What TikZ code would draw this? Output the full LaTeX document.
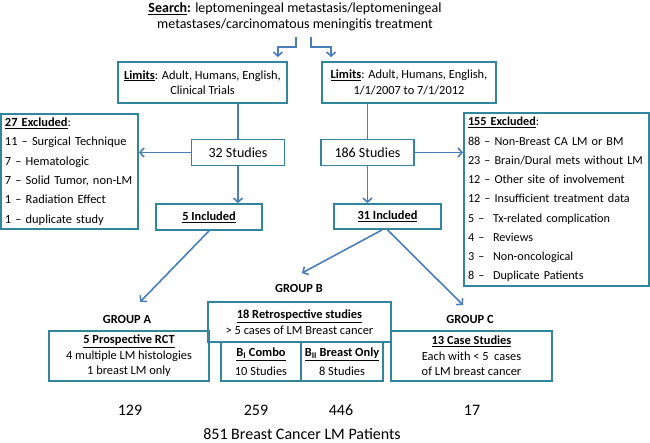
\documentclass[tikz,border=0pt]{standalone}
\usepackage{fontspec}
\setmainfont{Carlito}
\usetikzlibrary{arrows.meta,calc}
\definecolor{boxc}{HTML}{31859C}
\definecolor{arrc}{HTML}{4A7EBB}
\newcommand\fsz{\fontsize{12.4}{15.5}\selectfont}
\newcommand\ul[1]{\underline{#1}}
\begin{document}
\begin{tikzpicture}[x=1pt,y=-1pt,
  bx/.style={draw=boxc,line width=1.8pt,inner sep=0pt,align=center,font=\fsz},
  arr/.style={draw=arrc,line width=1.6pt,-{Straight Barb[length=4pt,width=9pt,line width=1.6pt]}},
  ln/.style={draw=arrc,line width=1.6pt},
  grp/.style={font=\fsz\bfseries,inner sep=0pt},
  num/.style={font=\fontsize{16}{19}\selectfont,inner sep=0pt}]
\useasboundingbox (0,0) rectangle (650,443);

% search text
\node[font=\fontsize{14}{16.5}\selectfont,align=center,inner sep=0pt] (search) at (295,17)
  {\textbf{\ul{Search}:} leptomeningeal metastasis/leptomeningeal\\metastases/carcinomatous meningitis treatment};

% limits boxes
\node[bx,minimum width=169pt,minimum height=41pt] (limL) at (202.5,82.5)
  {\textbf{\ul{Limits}}: Adult, Humans, English,\\Clinical Trials};
\node[bx,minimum width=174pt,minimum height=41pt] (limR) at (409,82.5)
  {\textbf{\ul{Limits}}: Adult, Humans, English,\\1/1/2007 to 7/1/2012};

% studies
\node[bx,font=\fontsize{14}{16}\selectfont,minimum width=93pt,minimum height=26pt] (s32) at (238,152.5) {32 Studies};
\node[bx,font=\fontsize{14}{16}\selectfont,minimum width=93pt,minimum height=26pt] (s186) at (367.5,152.5) {186 Studies};

% included
\node[bx,minimum width=106pt,minimum height=26pt] (inc5) at (209,217) {\textbf{\ul{5 Included}}};
\node[bx,minimum width=107pt,minimum height=25pt] (inc31) at (387.5,216.5) {\textbf{\ul{31 Included}}};

% excluded lists
\node[bx,align=left,font=\fontsize{12.4}{19.4}\selectfont,text width=129pt,inner xsep=4pt,minimum height=115pt] (ex27) at (69.5,171.5)
  {\textbf{\ul{27 Excluded}}:\\
   11 – Surgical Technique\\
   7 – Hematologic\\
   7 – Solid Tumor, non-LM\\
   1 – Radiation Effect\\
   1 – duplicate study};
\node[bx,align=left,font=\fontsize{12.2}{19.25}\selectfont,text width=177pt,inner xsep=4pt,minimum height=173pt] (ex155) at (556.5,199.5)
  {\textbf{\ul{155 Excluded}}:\\
   88 – Non-Breast CA LM or BM\\
   23 – Brain/Dural mets without LM\\
   12 – Other site of involvement\\
   12 – Insufficient treatment data\\
   \makebox[25pt][l]{5 –}Tx-related complication\\
   \makebox[25pt][l]{4 –}Reviews\\
   \makebox[25pt][l]{3 –}Non-oncological\\
   \makebox[25pt][l]{8 –}Duplicate Patients};

% group labels
\node[grp] (gA) at (127,319) {GROUP A};
\node[grp] (gB) at (299,288) {GROUP B};
\node[grp] (gC) at (470,319) {GROUP C};

% bottom boxes
\node[bx,minimum width=160pt,minimum height=50pt] (bA) at (129,356)
  {\textbf{\ul{5 Prospective RCT}}\\4 multiple LM histologies\\1 breast LM only};
\node[bx,minimum width=183pt,minimum height=40pt] (bR) at (299.5,322)
  {\textbf{\ul{18 Retrospective studies}}\\> 5 cases of LM Breast cancer};
\node[bx,font=\fontsize{12.4}{18.5}\selectfont,minimum width=80pt,minimum height=39pt] (bB1) at (261,361.5)
  {\textbf{\ul{B\textsubscript{I} Combo}}\\10 Studies};
\node[bx,font=\fontsize{12.4}{18.5}\selectfont,minimum width=82pt,minimum height=39pt] (bB2) at (342,361.5)
  {\textbf{\ul{B\textsubscript{II} Breast Only}}\\8 Studies};
\node[bx,minimum width=161pt,minimum height=50pt] (bC) at (471.5,356)
  {\textbf{\ul{13 Case Studies}}\\Each with < 5~ cases\\of LM breast cancer};

% numbers
\node[num] (n1) at (130,410) {129};
\node[num] (n2) at (256,410) {259};
\node[num] (n3) at (341,410) {446};
\node[num] (n4) at (472,410) {17};
\node[num] (tot) at (302,434) {851 Breast Cancer LM Patients};

% connectors
\coordinate (sL) at (296,37);
\coordinate (sR) at (311,37);
\draw[arr,shorten >=4pt] (sL) -- ++(0,10) -| ([xshift=-10pt]limL.north east);
\draw[arr,shorten >=4pt] (sR) -- ++(0,10) -| ([xshift=10pt]limR.north west);
\draw[ln] (s32.north |- limL.south) -- (s32.north);
\draw[ln] (s186.north |- limR.south) -- (s186.north);
\draw[arr] (s32.west) -- (s32.west -| ex27.east);
\draw[arr] (s186.east) -- (s186.east -| ex155.west);
\draw[arr] (s32.south) -- (s32.south |- inc5.north);
\draw[arr] (s186.south) -- (s186.south |- inc31.north);
\coordinate (tA) at (140,302);
\coordinate (tB) at (302,273);
\coordinate (tC) at (463,305);
\draw[arr] (inc5.south) -- (tA);
\draw[arr] ($(inc31.south west)!0.45!(inc31.south east)$) -- (tB);
\draw[arr] (inc31.south) -- (tC);
\end{tikzpicture}
\end{document}
